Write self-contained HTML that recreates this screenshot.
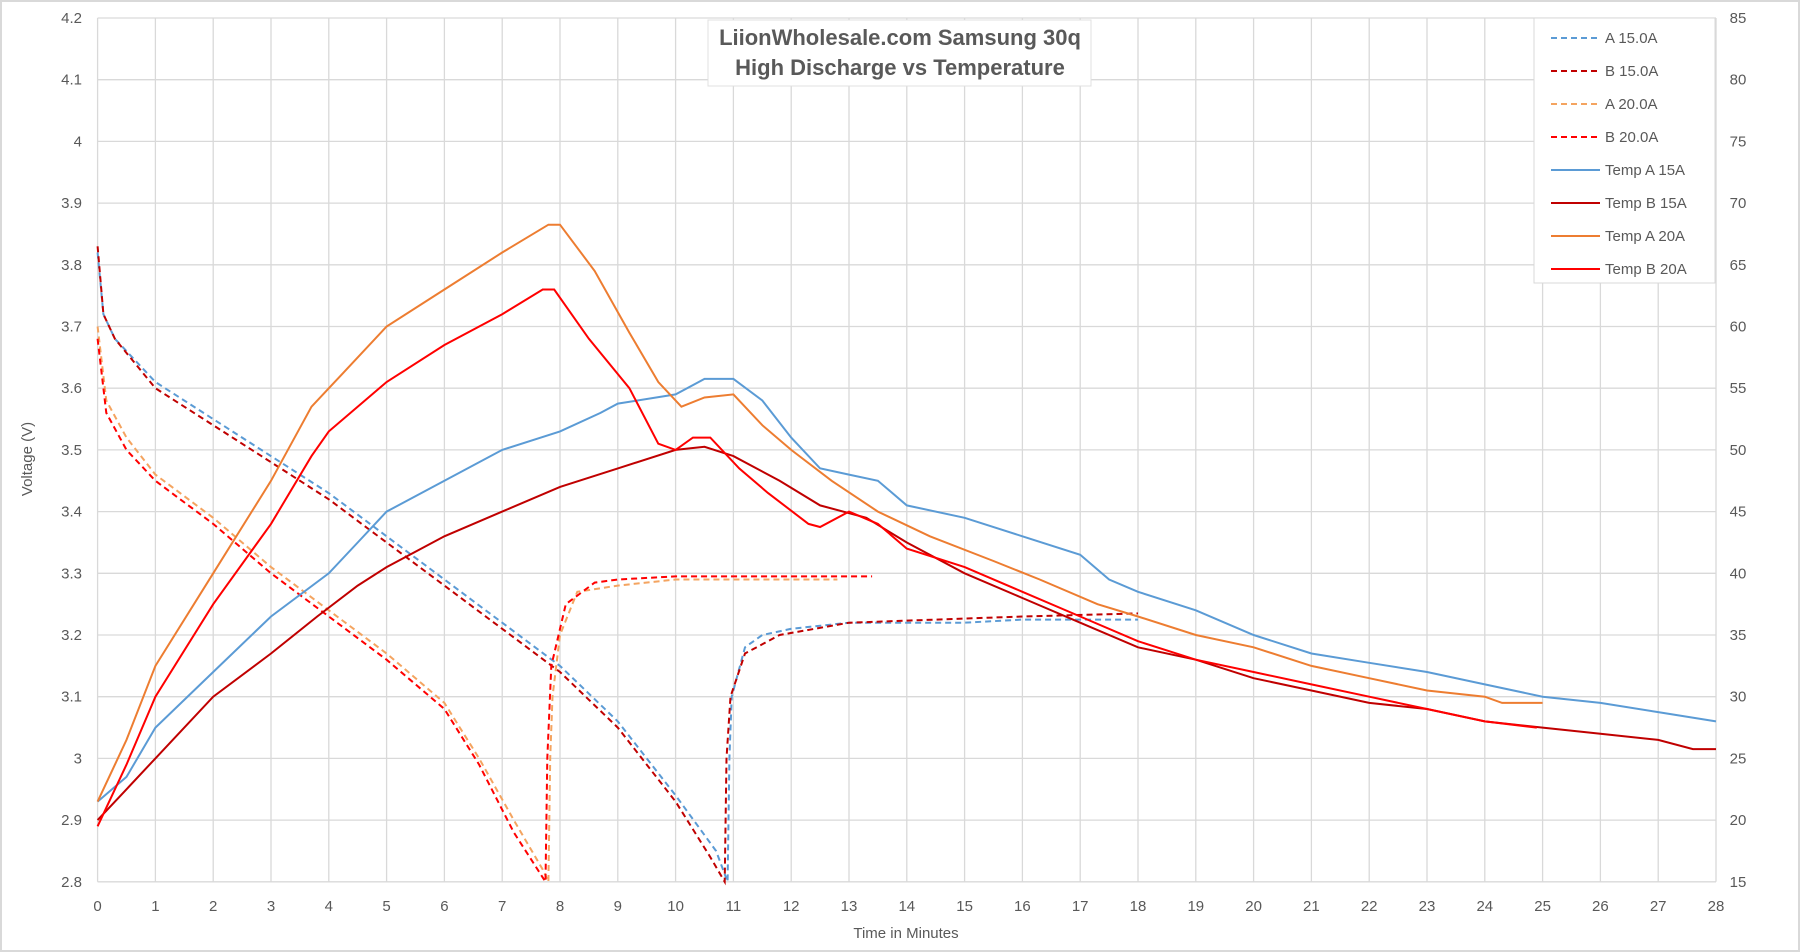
<!DOCTYPE html>
<html><head><meta charset="utf-8"><style>
body{margin:0;background:#fff}
svg{display:block;font-family:"Liberation Sans",sans-serif}
</style></head><body>
<svg id="s" width="1800" height="952" viewBox="0 0 1800 952" xmlns="http://www.w3.org/2000/svg">
<rect x="1" y="1" width="1798" height="950" fill="#fff" stroke="#d9d9d9" stroke-width="2"/>
<g id="grid" stroke="#d9d9d9" stroke-width="1.3"></g>
<g id="labels" fill="#595959" font-size="15"></g>
<g id="series" fill="none" stroke-width="2"></g>
<rect x="708" y="20" width="383" height="66" fill="#fff" stroke="#e0e0e0"/>
<text x="900" y="45" text-anchor="middle" font-size="22" font-weight="bold" fill="#595959">LiionWholesale.com Samsung 30q</text>
<text x="900" y="75" text-anchor="middle" font-size="22" font-weight="bold" fill="#595959">High Discharge vs Temperature</text>
<text transform="translate(32,459) rotate(-90)" text-anchor="middle" font-size="15" fill="#595959">Voltage (V)</text>
<text x="906" y="938" text-anchor="middle" font-size="15" fill="#595959">Time in Minutes</text>
<rect x="1534" y="18" width="181" height="265" fill="#fff" stroke="#d9d9d9"/>
<g id="legend" font-size="15" fill="#595959"></g>
</svg>
<script>
const NS="http://www.w3.org/2000/svg";
const X=t=>97.6+57.8*t, Y=v=>18+(4.2-v)*617;
function el(p,tag,a,txt){const e=document.createElementNS(NS,tag);for(const k in a)e.setAttribute(k,a[k]);if(txt!==undefined)e.textContent=txt;document.getElementById(p).appendChild(e);return e;}
for(let i=0;i<=28;i++){el('grid','line',{x1:X(i),x2:X(i),y1:Y(4.2),y2:Y(2.8)});el('labels','text',{x:X(i),y:911,'text-anchor':'middle'},i);}
for(let i=0;i<=14;i++){const v=2.8+i*0.1;el('grid','line',{x1:X(0),x2:X(28),y1:Y(v),y2:Y(v)});
 el('labels','text',{x:82,y:Y(v)+5,'text-anchor':'end'},(Math.round(v*10)/10).toString());
 el('labels','text',{x:1738,y:Y(v)+5,'text-anchor':'middle'},15+i*5);}
const S=[
["#5B9BD5","6,4",[[0,3.82],[0.1,3.72],[0.3,3.68],[1,3.61],[2,3.55],[3,3.49],[4,3.43],[5,3.36],[6,3.29],[7,3.22],[8,3.15],[9,3.06],[9.5,3.0],[10,2.94],[10.7,2.85],[10.9,2.8],[10.93,3.0],[10.97,3.1],[11.2,3.18],[11.5,3.2],[12,3.21],[13,3.22],[15,3.22],[16,3.225],[18,3.225]]],
["#C00000","6,4",[[0,3.83],[0.1,3.72],[0.3,3.68],[1,3.60],[2,3.54],[3,3.48],[4,3.42],[5,3.35],[6,3.28],[7,3.21],[8,3.14],[9,3.05],[9.5,2.99],[10,2.93],[10.6,2.84],[10.85,2.8],[10.88,3.0],[10.95,3.1],[11.2,3.17],[11.8,3.2],[13,3.22],[14.5,3.225],[16,3.23],[18,3.235]]],
["#F4A460","6,4",[[0,3.7],[0.15,3.58],[0.5,3.52],[1,3.46],[2,3.39],[3,3.31],[4,3.24],[5,3.17],[6,3.09],[6.6,3.0],[7.2,2.9],[7.7,2.82],[7.8,2.8],[7.83,3.0],[7.87,3.1],[8,3.2],[8.3,3.27],[9,3.28],[10,3.29],[12.8,3.29]]],
["#FF0000","6,4",[[0,3.68],[0.15,3.56],[0.5,3.50],[1,3.45],[2,3.38],[3,3.30],[4,3.23],[5,3.16],[6,3.08],[6.6,2.99],[7.2,2.88],[7.75,2.8],[7.78,3.0],[7.85,3.15],[8.1,3.25],[8.6,3.285],[9,3.29],[10,3.295],[13.4,3.295]]],
["#5B9BD5","",[[0,2.93],[0.5,2.97],[1,3.05],[2,3.14],[3,3.23],[4,3.30],[4.5,3.35],[5,3.40],[6,3.45],[7,3.50],[8,3.53],[8.7,3.56],[9,3.575],[10,3.59],[10.5,3.615],[11,3.615],[11.5,3.58],[12,3.52],[12.5,3.47],[13,3.46],[13.5,3.45],[14,3.41],[15,3.39],[16,3.36],[17,3.33],[17.5,3.29],[18,3.27],[19,3.24],[20,3.20],[21,3.17],[22,3.155],[23,3.14],[24,3.12],[25,3.10],[26,3.09],[27,3.075],[28,3.06]]],
["#C00000","",[[0,2.90],[0.5,2.95],[1,3.00],[2,3.10],[3,3.17],[3.8,3.23],[4.5,3.28],[5,3.31],[6,3.36],[7,3.40],[8,3.44],[9,3.47],[10,3.50],[10.5,3.505],[11,3.49],[11.8,3.45],[12.5,3.41],[13.3,3.39],[14,3.35],[15,3.30],[16,3.26],[17,3.22],[18,3.18],[19,3.16],[20,3.13],[21,3.11],[22,3.09],[23,3.08],[24,3.06],[25,3.05],[26,3.04],[27,3.03],[27.6,3.015],[28,3.015]]],
["#ED7D31","",[[0,2.93],[0.5,3.03],[1,3.15],[2,3.30],[3,3.45],[3.7,3.57],[4.2,3.62],[5,3.70],[6,3.76],[7,3.82],[7.8,3.865],[8,3.865],[8.6,3.79],[9.2,3.69],[9.7,3.61],[10.1,3.57],[10.5,3.585],[11,3.59],[11.5,3.54],[12,3.50],[12.7,3.45],[13.5,3.40],[14.4,3.36],[15.5,3.32],[16.3,3.29],[17.3,3.25],[18,3.23],[19,3.20],[20,3.18],[21,3.15],[22,3.13],[23,3.11],[24,3.10],[24.3,3.09],[25,3.09]]],
["#FF0000","",[[0,2.89],[0.5,2.99],[1,3.10],[2,3.25],[3,3.38],[3.7,3.49],[4,3.53],[5,3.61],[6,3.67],[7,3.72],[7.7,3.76],[7.9,3.76],[8.5,3.68],[9.2,3.60],[9.7,3.51],[10,3.50],[10.3,3.52],[10.6,3.52],[11.1,3.47],[11.6,3.43],[12.3,3.38],[12.5,3.375],[13,3.40],[13.5,3.38],[14,3.34],[15,3.31],[16,3.27],[17,3.23],[18,3.19],[19,3.16],[20,3.14],[21,3.12],[22,3.10],[23,3.08],[24,3.06],[24.9,3.05]]]
];
const names=["A 15.0A","B 15.0A","A 20.0A","B 20.0A","Temp A 15A","Temp B 15A","Temp A 20A","Temp B 20A"];
S.forEach((s,i)=>{
 const d=s[2].map((p,j)=>(j?'L':'M')+X(p[0]).toFixed(1)+' '+Y(p[1]).toFixed(1)).join('');
 const a={d:d,stroke:s[0]};if(s[1])a['stroke-dasharray']=s[1];el('series','path',a);
 const ly=38+i*33;
 const la={x1:1551,x2:1600,y1:ly,y2:ly,stroke:s[0],'stroke-width':2};if(s[1])la['stroke-dasharray']=s[1];
 el('legend','line',la);el('legend','text',{x:1605,y:ly+5},names[i]);
});
</script>
</body></html>
